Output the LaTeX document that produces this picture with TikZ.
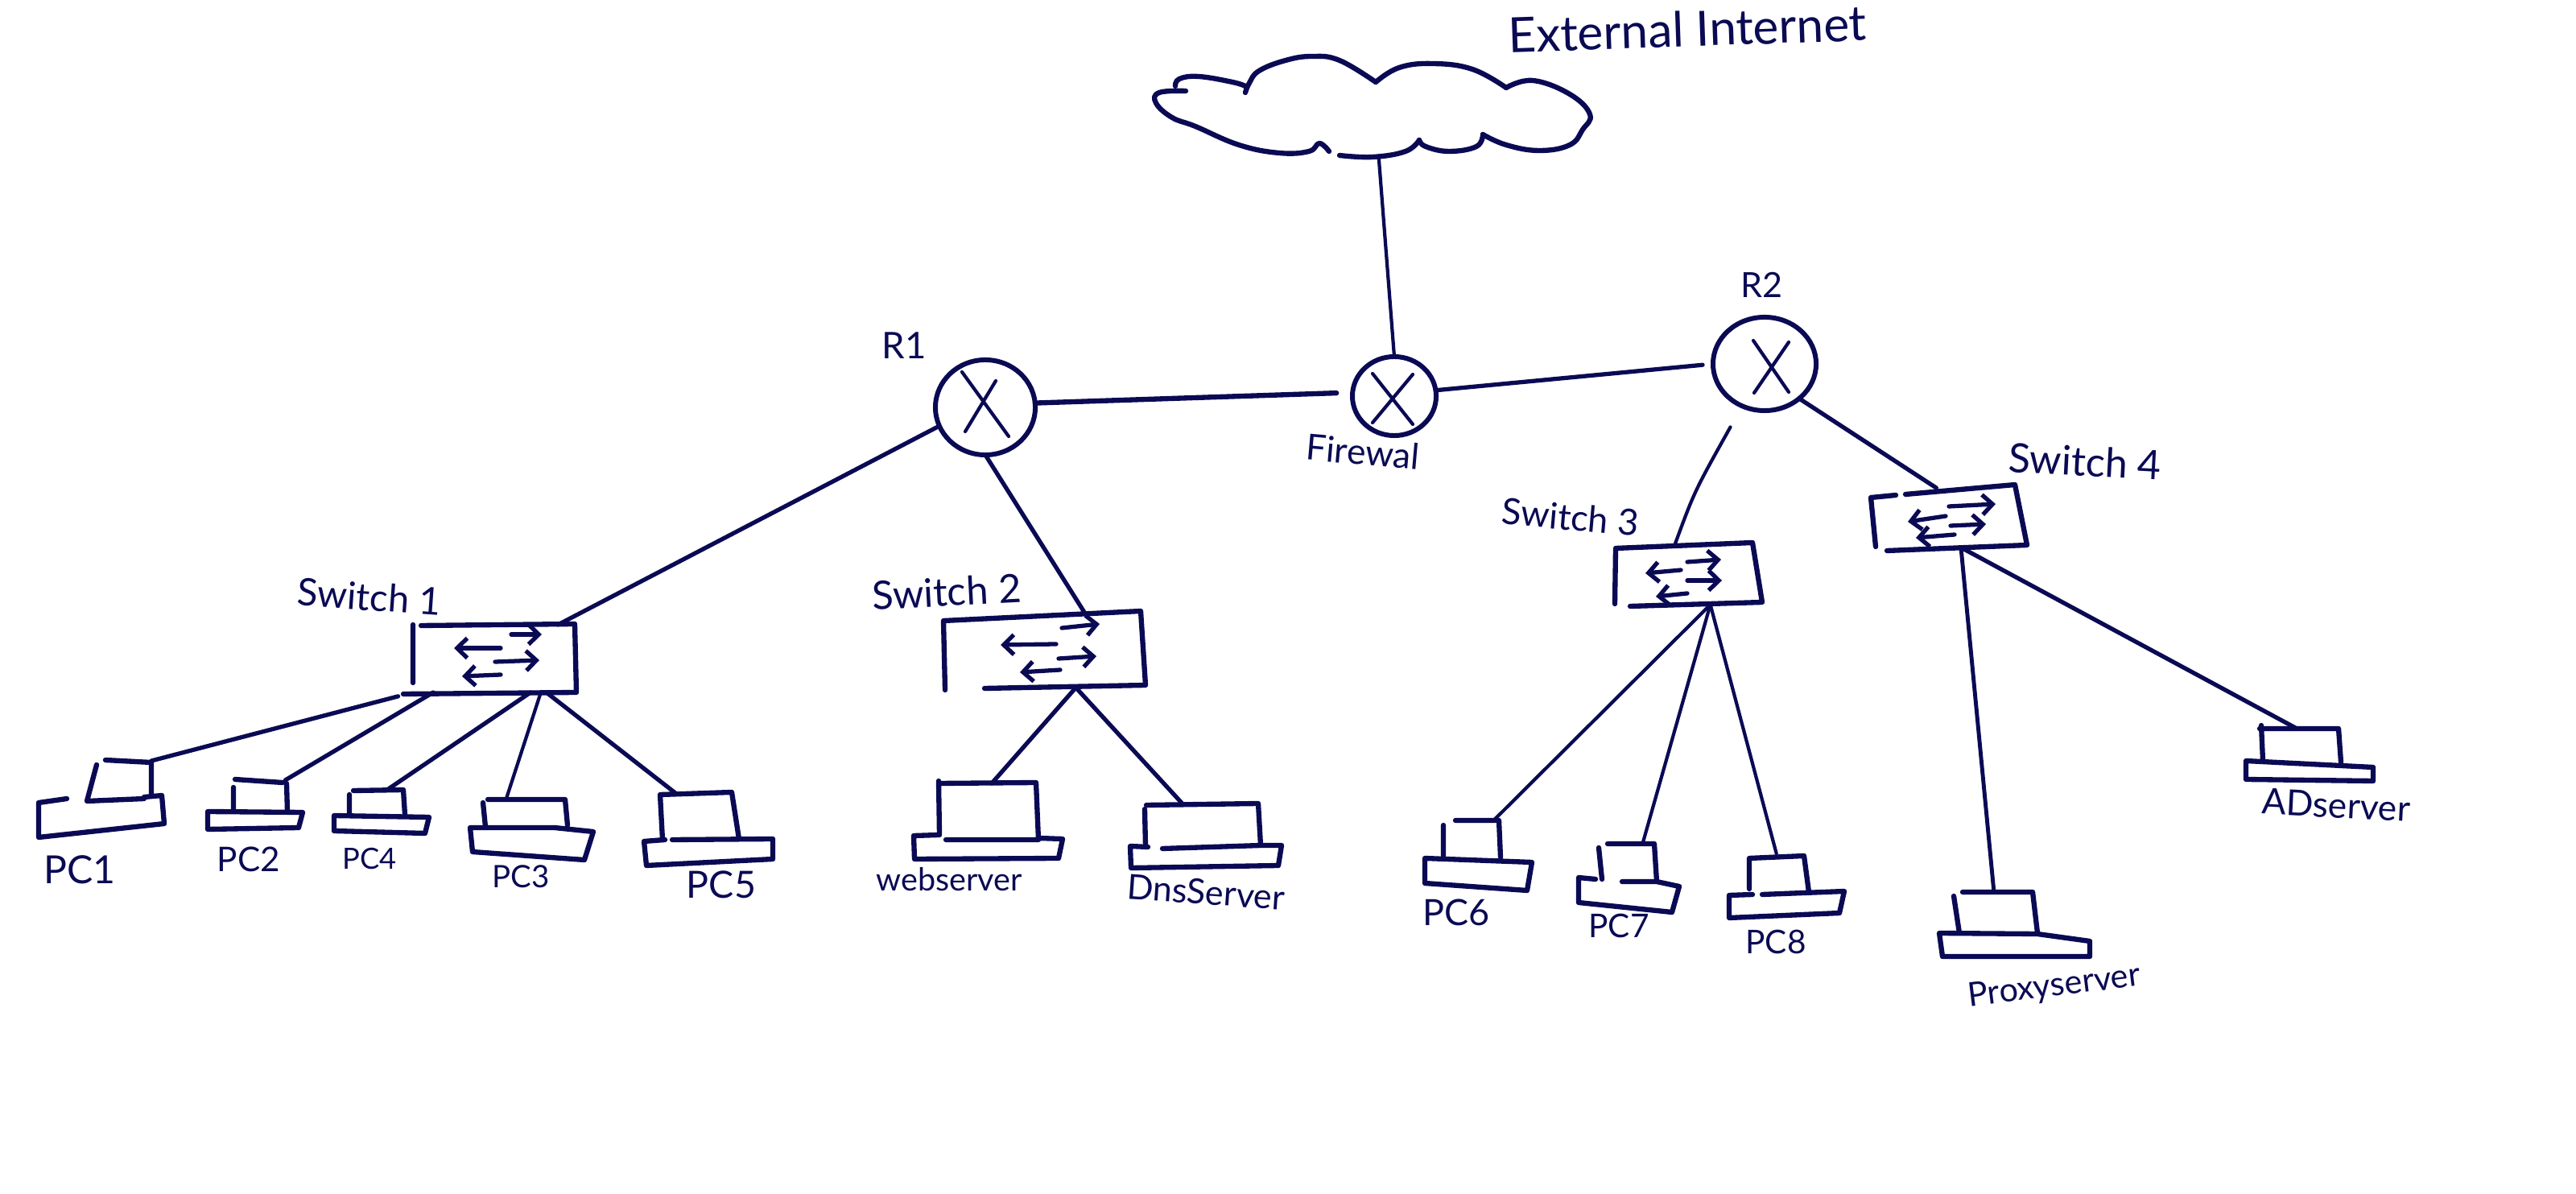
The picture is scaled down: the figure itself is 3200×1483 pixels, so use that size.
\documentclass[tikz,border=0pt]{standalone}
\usepackage{fontspec}
\setmainfont{Lato}
\usetikzlibrary{shapes.geometric,arrows.meta}
\definecolor{ink}{RGB}{10,10,84}
\tikzset{
  hand/.style={draw=ink,line width=1.8pt,line cap=round,line join=round},
  wire/.style={draw=ink,line width=1.5pt,line cap=round},
  thinwire/.style={draw=ink,line width=1.2pt,line cap=round},
  flow/.style={draw=ink,line width=1.5pt,line cap=round,-{Straight Barb[length=3.6pt,width=7pt]}},
  xmark/.style={draw=ink,line width=1.2pt,line cap=round},
  holder/.style={inner sep=0pt,outer sep=0pt,minimum width=#1},
  router/.style={draw=ink,line width=1.7pt,shape=ellipse,inner sep=0pt,outer sep=0pt},
  lab/.style={text=ink,inner sep=0pt}
}
\begin{document}
\begin{tikzpicture}[x=0.01cm,y=-0.01cm]
\useasboundingbox (0,0) rectangle (3200,1483);
\fill[white] (0,0) rectangle (3200,1483);

% holders: named places of the hand-drawn shapes
\node[holder=5.36cm,minimum height=1.30cm] (cloud) at (1707,130) {};
\node[router,minimum width=1.04cm,minimum height=0.98cm] (fw) at (1732,492) {};
\node[router,minimum width=1.24cm,minimum height=1.18cm] (r1) at (1224,506) {};
\node[router,minimum width=1.28cm,minimum height=1.16cm] (r2) at (2192,452) {};
\node[holder=2.02cm,minimum height=0.84cm] (sw1) at (614,818) {};
\node[holder=2.50cm,minimum height=0.92cm] (sw2) at (1295,808) {};
\node[holder=1.70cm,minimum height=0.76cm] (sw3) at (2098,713) {};
\node[holder=1.90cm,minimum height=0.74cm] (sw4) at (2421,643) {};
\node[holder=0.70cm,minimum height=0.50cm] (pc1) at (153,970) {};
\node[holder=0.70cm,minimum height=0.42cm] (pc2) at (322,990) {};
\node[holder=0.68cm,minimum height=0.32cm] (pc4) at (467,997) {};
\node[holder=1.04cm,minimum height=0.34cm] (pc3) at (652,1010) {};
\node[holder=0.96cm,minimum height=0.58cm] (pc5) at (867,1014) {};
\node[holder=1.22cm,minimum height=0.70cm] (web) at (1227,1008) {};
\node[holder=1.44cm,minimum height=0.54cm] (dns) at (1493,1026) {};
\node[holder=0.70cm,minimum height=0.46cm] (pc6) at (1828,1042) {};
\node[holder=0.70cm,minimum height=0.48cm] (pc7) at (2021,1072) {};
\node[holder=0.70cm,minimum height=0.44cm] (pc8) at (2208,1087) {};
\node[holder=1.00cm,minimum height=0.50cm] (proxy) at (2480,1133) {};
\node[holder=0.96cm,minimum height=0.42cm] (ad) at (2857,926) {};

% cloud
\draw[hand] plot[smooth,tension=0.7] coordinates {(1547,115)(1552,103)(1564,88)(1597,75)(1630,70)(1664,75)(1709,102)};
\draw[hand] plot[smooth,tension=0.7] coordinates {(1709,102)(1738,84)(1780,79)(1829,86)(1871,109)};
\draw[hand] plot[smooth,tension=0.7] coordinates {(1871,109)(1904,100)(1950,117)(1975,142)(1966,161)(1950,180)(1912,187)(1871,180)(1842,167)};
\draw[hand] plot[smooth,tension=0.7] coordinates {(1842,167)(1834,182)(1800,188)(1771,182)(1763,174)};
\draw[hand] plot[smooth,tension=0.7] coordinates {(1763,174)(1746,188)(1705,195)(1664,193)};
\draw[hand] plot[smooth,tension=0.7] coordinates {(1651,188)(1639,178)(1626,188)(1589,190)(1539,180)(1485,157)(1456,146)(1436,128)(1440,115)(1473,113)};
\draw[hand] plot[smooth,tension=0.7] coordinates {(1460,107)(1465,98)(1489,95)(1531,102)(1547,107)};

% crosses in the routers
\draw[xmark] (1195,462)--(1253,542) (1237,473)--(1199,536);
\draw[xmark] (1705,464)--(1755,527) (1755,465)--(1705,525);
\draw[xmark] (2178,423)--(2222,487) (2222,425)--(2179,488);

% switches
\draw[hand] (513,776)--(513,848) (523,777)--(714,775)--(716,860)--(501,862);
\draw[hand] (1172,771)--(1174,857) (1172,771)--(1417,759)--(1423,851)--(1223,855);
\draw[hand] (2007,681)--(2006,750) (2007,681)--(2177,674)--(2189,748)--(2025,753);
\draw[hand] (2324,618)--(2355,615) (2367,614)--(2503,602)--(2518,677)--(2344,684) (2324,618)--(2330,679);

\draw[flow] (635,788)--(673,788);
\draw[flow] (622,805)--(564,805);
\draw[flow] (615,822)--(670,820);
\draw[flow] (622,838)--(574,840);
\draw[flow] (1319,780)--(1366,775);
\draw[flow] (1312,800)--(1243,801);
\draw[flow] (1315,818)--(1362,815);
\draw[flow] (1317,832)--(1267,835);
\draw[flow] (2096,698)--(2138,695);
\draw[flow] (2088,708)--(2044,712);
\draw[flow] (2096,721)--(2139,721);
\draw[flow] (2096,737)--(2057,741);
\draw[flow] (2421,629)--(2479,626);
\draw[flow] (2417,641)--(2370,648);
\draw[flow] (2423,653)--(2467,651);
\draw[flow] (2428,664)--(2380,668);

% PCs and servers
\draw[hand] (131,944)--(188,947)--(188,987) (120,950)--(108,995)--(179,992);
\draw[hand] (83,992)--(48,997)--(48,1040)--(204,1023)--(201,988)--(179,990);
\draw[hand] (292,968)--(351,972) (356,973)--(357,1008) (290,978)--(290,1008);
\draw[hand] (258,1008)--(376,1009)--(371,1028)--(258,1030)--cycle;
\draw[hand] (439,982)--(501,981)--(503,1012) (434,987)--(434,1012);
\draw[hand] (415,1013)--(533,1015)--(528,1035)--(415,1032)--cycle;
\draw[hand] (606,993)--(702,993)--(705,1025) (600,997)--(603,1027);
\draw[hand] (584,1028)--(689,1028)--(737,1033)--(726,1068)--(587,1058)--cycle;
\draw[hand] (820,987)--(909,984)--(918,1042) (820,987)--(823,1043);
\draw[hand] (826,1043)--(800,1045)--(803,1075)--(960,1067)--(960,1042)--(835,1043);
\draw[hand] (1166,970)--(1167,1037) (1166,973)--(1287,972)--(1290,1043)--(1175,1043);
\draw[hand] (1166,1037)--(1135,1038)--(1136,1067)--(1315,1066)--(1320,1042)--(1290,1041);
\draw[hand] (1424,1000)--(1563,998)--(1566,1050)--(1444,1054) (1422,1005)--(1423,1052);
\draw[hand] (1426,1052)--(1404,1051)--(1405,1078)--(1588,1075)--(1592,1050)--(1566,1050);
\draw[hand] (1808,1019)--(1862,1019)--(1864,1065) (1793,1025)--(1793,1066);
\draw[hand] (1770,1066)--(1903,1071)--(1897,1106)--(1770,1097)--cycle;
\draw[hand] (1997,1048)--(2055,1048)--(2058,1095) (1986,1053)--(1990,1092);
\draw[hand] (1982,1092)--(1961,1090)--(1961,1121)--(2077,1133)--(2086,1101)--(2058,1095)--(2015,1095);
\draw[hand] (2173,1066)--(2241,1063)--(2247,1108) (2173,1066)--(2173,1104);
\draw[hand] (2177,1111)--(2148,1112)--(2148,1140)--(2285,1134)--(2291,1107)--(2189,1111);
\draw[hand] (2438,1108)--(2525,1108)--(2531,1159) (2427,1113)--(2434,1159);
\draw[hand] (2409,1159)--(2531,1160)--(2596,1169)--(2596,1188)--(2413,1188)--cycle;
\draw[hand] (2807,905)--(2905,905)--(2908,947) (2809,901)--(2811,945);
\draw[hand] (2790,945)--(2948,953)--(2948,970)--(2790,968)--cycle;

% connectors
\draw[thinwire] (cloud.275) -- (fw.90);
\draw[wire,line width=1.8pt,shorten >=0.2cm] (r1.5) -- (fw.175);
\draw[wire,shorten >=0.13cm] (fw.8) -- (r2.180);
\draw[wire] (r1.202) -- (sw1.28);
\draw[wire] (r1.270) -- (sw2.41);
\draw[thinwire,shorten <=0.3cm] (r2.242) .. controls (2105,610) .. (sw3.114);
\draw[wire] (r2.315) -- (sw4.113);
\draw[wire,shorten <=0.19cm] (sw1.south west) -- (pc1.north east);
\draw[wire] (sw1.209.2) -- (pc2.33);
\draw[wire] (sw1.317.6) -- (pc4.49);
\draw[thinwire] (sw1.324.6) -- (pc3.144.7);
\draw[wire] (sw1.327) -- (pc5.134);
\draw[wire] (sw2.312.4) -- (web.82);
\draw[wire] (sw2.312.4) -- (dns.131.6);
\draw[thinwire] (sw3.305) -- (pc6.40);
\draw[thinwire] (sw3.305) -- (pc7.51.6);
\draw[thinwire,shorten >=0.05cm] (sw3.305) -- (pc8.90);
\draw[thinwire,line width=1.4pt] (sw4.292) -- (proxy.97);
\draw[wire] (sw4.292) -- (ad.100);

% labels
\node[lab,rotate=2] (lext) at (2096,36) {\resizebox{4.45cm}{!}{External Internet}};
\node[lab] (lr1) at (1123,429) {\resizebox{0.55cm}{!}{R1}};
\node[lab] (lr2) at (2188,354) {\resizebox{0.52cm}{!}{R2}};
\node[lab,rotate=-5] (lfw) at (1693,561) {\resizebox{1.41cm}{!}{Firewal}};
\node[lab,rotate=-4] (ls1) at (459,741) {\resizebox{1.78cm}{!}{Switch 1}};
\node[lab,rotate=3] (ls2) at (1176,735) {\resizebox{1.85cm}{!}{Switch 2}};
\node[lab,rotate=-5] (ls3) at (1951,642) {\resizebox{1.70cm}{!}{Switch 3}};
\node[lab,rotate=-3] (ls4) at (2590,573) {\resizebox{1.90cm}{!}{Switch 4}};
\node[lab] (lp1) at (99,1080) {\resizebox{0.89cm}{!}{PC1}};
\node[lab] (lp2) at (309,1067) {\resizebox{0.78cm}{!}{PC2}};
\node[lab] (lp4) at (459,1067) {\resizebox{0.67cm}{!}{PC4}};
\node[lab] (lp3) at (647,1089) {\resizebox{0.71cm}{!}{PC3}};
\node[lab] (lp5) at (896,1099) {\resizebox{0.86cm}{!}{PC5}};
\node[lab] (lweb) at (1179,1092) {\resizebox{1.81cm}{!}{webserver}};
\node[lab,rotate=-4] (ldns) at (1498,1108) {\resizebox{1.96cm}{!}{DnsServer}};
\node[lab] (lp6) at (1809,1133) {\resizebox{0.83cm}{!}{PC6}};
\node[lab] (lp7) at (2011,1150) {\resizebox{0.75cm}{!}{PC7}};
\node[lab] (lp8) at (2206,1170) {\resizebox{0.75cm}{!}{PC8}};
\node[lab,rotate=7] (lproxy) at (2552,1226) {\resizebox{2.15cm}{!}{Proxyserver}};
\node[lab,rotate=-3] (lad) at (2902,1000) {\resizebox{1.84cm}{!}{ADserver}};
\end{tikzpicture}
\end{document}
